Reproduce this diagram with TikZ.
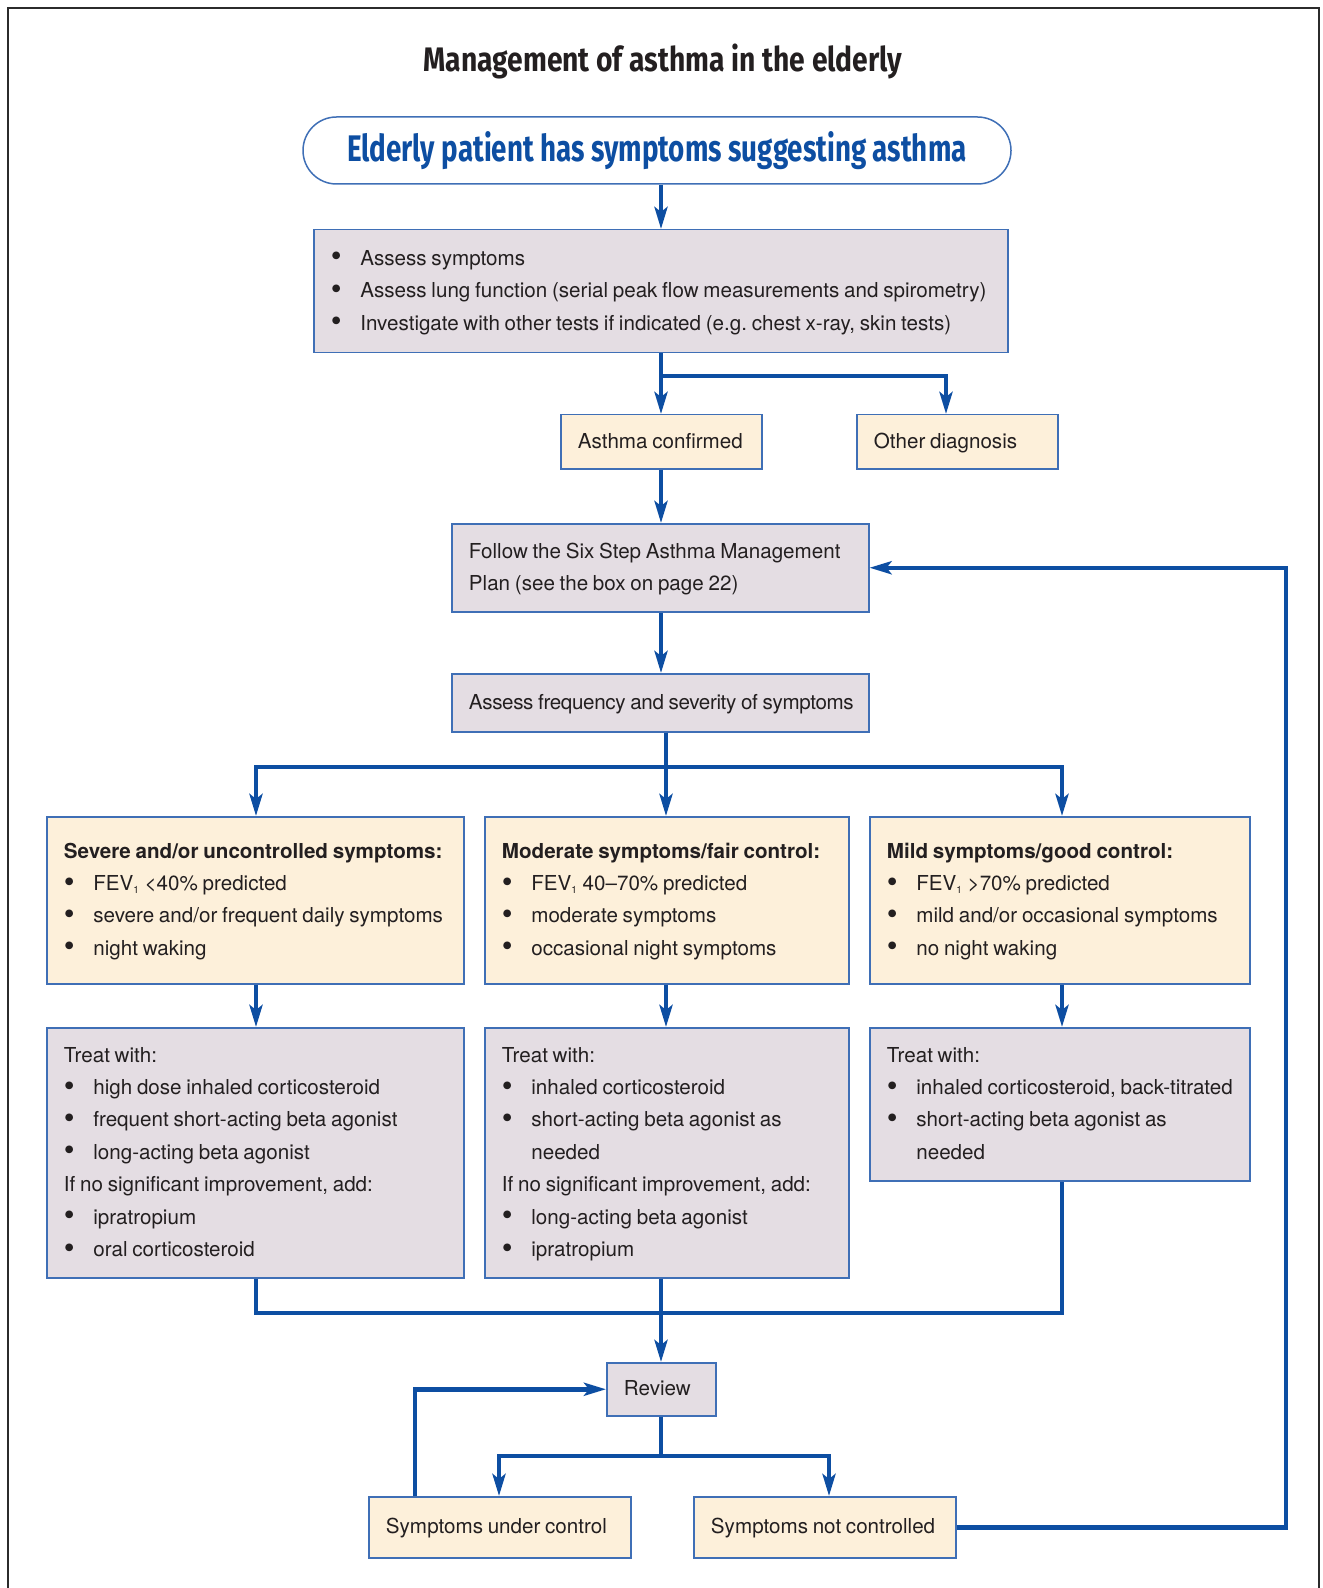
\documentclass[tikz,border=0pt]{standalone}
\usepackage{fontspec}
\setmainfont{TeX Gyre Heros}
\newfontfamily\headfont{Fira Sans}[FakeStretch=0.83]
\newfontfamily\pillfont{Fira Sans}[FakeStretch=0.75]
\usetikzlibrary{arrows.meta}
\definecolor{flowblue}{HTML}{0D4EA2}
\definecolor{edgeblue}{HTML}{3F6FB6}
\definecolor{cream}{HTML}{FDF0DA}
\definecolor{mauve}{HTML}{E4DDE3}
\definecolor{ink}{HTML}{231F20}
\definecolor{frame}{HTML}{2B2B2B}
\newcommand{\bitem}{\makebox[14.7pt][l]{\raisebox{-0.8pt}{\scalebox{1.5}{\textbullet}}}}
\newcommand{\bgap}{\hspace*{14.7pt}}
\newcommand{\fev}{FEV\textsubscript{\tiny 1}}
\newcommand{\boxlines}[1]{\spaceskip=0.23em\relax\begin{tabular}{@{}l@{}}#1\end{tabular}}
\begin{document}
\begin{tikzpicture}[x=0.5pt, y=-0.5pt, line join=miter, font=\fontsize{10.3}{16.2}\selectfont\frenchspacing,
  >={Stealth[length=11pt,width=6.5pt,inset=2.5pt]},
  box/.style={draw=edgeblue, line width=0.75pt, anchor=north west, inner xsep=8.6pt, inner ysep=0pt, align=left, text=ink},
  gbox/.style={box, fill=mauve},
  ybox/.style={box, fill=cream},
  flow/.style={draw=flowblue, line width=2.25pt}]
\useasboundingbox (0,0) rectangle (1322,1588);
\draw[line width=1pt, frame] (8,1588) -- (8,8) -- (1319,8) -- (1319,1588);
\path
(663,61) coordinate (T)
(657,150.5) coordinate (S)
(313,229) coordinate (A)
(560,414) coordinate (C)
(856,414) coordinate (O)
(451,523) coordinate (P)
(451,673) coordinate (F)
(46,816) coordinate (L1)
(484,816) coordinate (M1)
(869,816) coordinate (R1)
(46,1027) coordinate (L2)
(484,1027) coordinate (M2)
(869,1027) coordinate (R2)
(606,1362) coordinate (V)
(368,1496) coordinate (U)
(693,1496) coordinate (N)
(0,376) coordinate (splitA)
(0,767) coordinate (splitB)
(0,1313) coordinate (joinC)
(0,1456) coordinate (splitD)
(1286,0) coordinate (backF)
(661,0) coordinate (colA)
(946,0) coordinate (colB)
(666,0) coordinate (colC)
(256,0) coordinate (colL)
(1062,0) coordinate (colR)
(499,0) coordinate (colU)
(829,0) coordinate (colN)
(415,0) coordinate (colQ);
\node[text=ink] (title) at (T) {\headfont\bfseries\fontsize{17}{20}\selectfont Management of asthma in the elderly};
\node[draw=edgeblue, line width=0.75pt, rounded corners=16.75pt, minimum width=354pt, minimum height=33.5pt, text=flowblue] (top) at (S) {\pillfont\bfseries\fontsize{18.5}{22}\selectfont Elderly patient has symptoms suggesting asthma};
\node[gbox, text width=329.8pt, minimum height=61.5pt] (assess) at (A) {\boxlines{\bitem Assess symptoms\\ \bitem Assess lung function (serial peak flow measurements and spirometry)\\ \bitem Investigate with other tests if indicated (e.g. chest x-ray, skin tests)}};
\node[ybox, text width=83.3pt, minimum height=27pt] (confirmed) at (C) {\boxlines{Asthma confirmed}};
\node[ybox, text width=83.3pt, minimum height=27pt] (otherdx) at (O) {\boxlines{Other diagnosis}};
\node[gbox, text width=191.3pt, minimum height=44pt] (sixstep) at (P) {\boxlines{Follow the Six Step Asthma Management\\ Plan (see the box on page 22)}};
\node[gbox, text width=191.3pt, minimum height=29pt] (freq) at (F) {\addfontfeatures{LetterSpace=-1.8}\boxlines{Assess frequency and severity of symptoms}};
\node[ybox, text width=191.3pt, minimum height=83.5pt] (severe) at (L1) {\boxlines{\textbf{Severe and/or uncontrolled symptoms:}\\ \bitem \fev{} <40\% predicted\\ \bitem severe and/or frequent daily symptoms\\ \bitem night waking}};
\node[ybox, text width=164.8pt, minimum height=83.5pt] (moderate) at (M1) {\boxlines{\textbf{Moderate symptoms/fair control:}\\ \bitem \fev{} 40--70\% predicted\\ \bitem moderate symptoms\\ \bitem occasional night symptoms}};
\node[ybox, text width=172.8pt, minimum height=83.5pt] (mild) at (R1) {\boxlines{\textbf{Mild symptoms/good control:}\\ \bitem \fev{} >70\% predicted\\ \bitem mild and/or occasional symptoms\\ \bitem no night waking}};
\node[gbox, text width=191.3pt, minimum height=125pt] (treatsev) at (L2) {\boxlines{Treat with:\\ \bitem high dose inhaled corticosteroid\\ \bitem frequent short-acting beta agonist\\ \bitem long-acting beta agonist\\ If no significant improvement, add:\\ \bitem ipratropium\\ \bitem oral corticosteroid}};
\node[gbox, text width=164.8pt, minimum height=125pt] (treatmod) at (M2) {\boxlines{Treat with:\\ \bitem inhaled corticosteroid\\ \bitem short-acting beta agonist as\\ \bgap needed\\ If no significant improvement, add:\\ \bitem long-acting beta agonist\\ \bitem ipratropium}};
\node[gbox, text width=172.8pt, minimum height=76.5pt] (treatmild) at (R2) {\boxlines{Treat with:\\ \bitem inhaled corticosteroid, back-titrated\\ \bitem short-acting beta agonist as\\ \bgap needed}};
\node[gbox, text width=37.3pt, minimum height=26.5pt] (review) at (V) {\boxlines{Review}};
\node[ybox, text width=113.8pt, minimum height=30.5pt] (undercontrol) at (U) {\boxlines{Symptoms under control}};
\node[ybox, text width=113.8pt, minimum height=30.5pt] (notcontrolled) at (N) {\boxlines{Symptoms not controlled}};
\draw[flow,->] (top.south -| colA) -- (assess.north -| colA);
\draw[flow,->] (assess.south -| colA) -- (confirmed.north -| colA);
\draw[flow,->] (assess.south -| colA) |- (splitA -| colB) -- (otherdx.north -| colB);
\draw[flow,->] (confirmed.south -| colA) -- (sixstep.north -| colA);
\draw[flow,->] (sixstep.south -| colA) -- (freq.north -| colA);
\foreach \a/\b/\c in {severe/treatsev/colL, moderate/treatmod/colC, mild/treatmild/colR} {
  \draw[flow,->] (freq.south -| colC) |- (splitB -| \c) -- (\a.north -| \c);
  \draw[flow,->] (\a.south -| \c) -- (\b.north -| \c);
}
\draw[flow] (treatsev.south -| colL) |- (joinC -| colR) -- (treatmild.south -| colR);
\draw[flow,->] (treatmod.south -| colA) -- (review.north -| colA);
\draw[flow,->] (review.south -| colA) |- (splitD -| colU) -- (undercontrol.north -| colU);
\draw[flow,->] (review.south -| colA) |- (splitD -| colN) -- (notcontrolled.north -| colN);
\draw[flow,->] (undercontrol.north -| colQ) |- (review.west);
\draw[flow,->] (notcontrolled.east) -| (backF |- sixstep.east) -- (sixstep.east);
\end{tikzpicture}
\end{document}
